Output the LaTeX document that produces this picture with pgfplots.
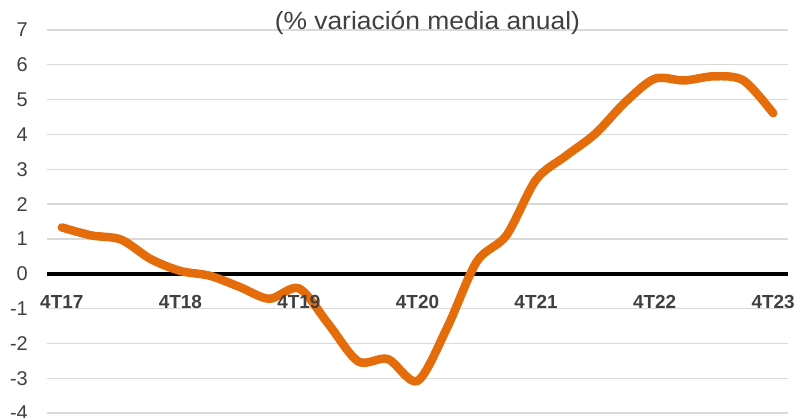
\documentclass[border=0pt]{standalone}
\usepackage{fontspec}
\setmainfont{Liberation Sans}
\newfontfamily\widefont{Liberation Sans}[FakeStretch=1.06]
\usepackage{pgfplots}
\pgfplotsset{compat=1.18}
\definecolor{lineor}{HTML}{E46C0A}
\definecolor{gridc}{HTML}{D9D9D9}
\definecolor{txt}{HTML}{404040}
\pgfplotsset{
  base/.style={
    at={(0,0)}, anchor=south west,
    width=741bp, height=383bp, scale only axis,
    xmin=-0.5, xmax=24.5, ymin=-4, ymax=7,
    axis line style={draw=none},
    tick style={draw=none},
    /pgf/number format/assume math mode=true,
  },
}
\begin{document}
\begin{tikzpicture}
\path[use as bounding box, clip] (-47bp,-5bp) rectangle (749bp,413bp);
\begin{axis}[
  base,
  ytick={-4,-3,-2,-1,0,1,2,3,4,5,6,7},
  xtick=\empty,
  ymajorgrids,
  grid style={gridc, line width=1.3bp},
  yticklabel style={font=\fontsize{20}{20}\selectfont, text=txt, anchor=east, inner sep=0pt, xshift=-19bp},
]
\addplot[black, line width=4bp, forget plot] coordinates {(-0.5,0) (24.5,0)};
\addplot[lineor, line width=8.5bp, smooth, line cap=round, line join=round] coordinates {
(0,1.33) (1,1.10) (2,0.98) (3,0.42) (4,0.08) (5,-0.06) (6,-0.38) (7,-0.72)
(8,-0.42) (9,-1.45) (10,-2.52) (11,-2.45) (12,-3.08) (13,-1.55) (14,0.35)
(15,1.10) (16,2.70) (17,3.38) (18,4.02) (19,4.92) (20,5.60) (21,5.55)
(22,5.67) (23,5.55) (24,4.61)
};
\end{axis}
\begin{axis}[
  base,
  ytick=\empty,
  xtick={0,4,8,12,16,20,24},
  xticklabels={4T17,4T18,4T19,4T20,4T21,4T22,4T23},
  xticklabel style={font=\bfseries\fontsize{19}{19}\selectfont, text=txt, anchor=center, inner sep=0pt, yshift=111.5bp},
]
\end{axis}
\node[anchor=base, text=txt, font=\widefont\fontsize{25}{25}\selectfont, inner sep=0pt] at (380.4bp,383bp) {(\% variación media anual)};
\end{tikzpicture}
\end{document}
